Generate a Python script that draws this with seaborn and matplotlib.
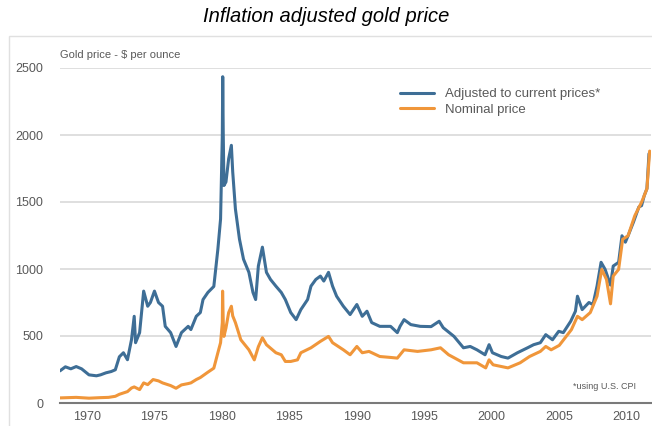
import matplotlib
matplotlib.use("Agg")
import matplotlib.pyplot as plt
from matplotlib.patches import Rectangle
from matplotlib.ticker import MultipleLocator
import seaborn as sns
import pandas as pd

# values (decimal year, $ per ounce)
adj_year = [1968.0, 1968.4, 1968.8, 1969.2, 1969.6, 1970.15, 1970.7, 1971.0, 1971.4, 1971.8,
            1972.1, 1972.4, 1972.7, 1973.0, 1973.3, 1973.5, 1973.6, 1973.9, 1974.2, 1974.5,
            1974.7, 1975.0, 1975.3, 1975.6, 1975.8, 1976.2, 1976.6, 1977.0, 1977.5, 1977.7,
            1978.1, 1978.4, 1978.6, 1978.96, 1979.4, 1979.7, 1979.9, 1980.03, 1980.06, 1980.1,
            1980.15, 1980.3, 1980.5, 1980.7, 1980.8, 1981.0, 1981.3, 1981.6, 1982.0, 1982.3,
            1982.5, 1982.7, 1983.0, 1983.3, 1983.6, 1984.0, 1984.4, 1984.7, 1985.1, 1985.5,
            1985.85, 1986.35, 1986.6, 1986.96, 1987.3, 1987.55, 1987.9, 1988.2, 1988.5, 1989.0,
            1989.5, 1990.0, 1990.4, 1990.75, 1991.1, 1991.7, 1992.5, 1993.0, 1993.2, 1993.5,
            1994.0, 1994.7, 1995.5, 1996.1, 1996.4, 1997.2, 1997.9, 1998.4, 1998.9, 1999.5,
            1999.8, 2000.05, 2000.7, 2001.2, 2001.9, 2002.65, 2003.1, 2003.6, 2004.0, 2004.5,
            2004.96, 2005.3, 2005.85, 2006.2, 2006.35, 2006.7, 2007.2, 2007.5, 2007.8, 2008.1,
            2008.4, 2008.8, 2009.0, 2009.4, 2009.65, 2009.9, 2010.1, 2010.5, 2010.9, 2011.1,
            2011.3, 2011.5, 2011.65]
adj_price = [240, 270, 255, 272, 255, 210, 203, 210, 225, 235,
             248, 345, 375, 323, 473, 647, 450, 525, 835, 722,
             750, 835, 750, 722, 572, 525, 422, 525, 572, 548,
             647, 675, 772, 825, 870, 1148, 1373, 2000, 2435, 1998,
             1623, 1650, 1823, 1923, 1725, 1448, 1223, 1073, 975, 825,
             772, 1022, 1163, 975, 922, 872, 825, 772, 675, 622,
             697, 772, 872, 922, 947, 910, 975, 872, 797, 722,
             660, 735, 647, 685, 600, 572, 572, 525, 572, 622,
             585, 572, 570, 610, 562, 497, 412, 422, 397, 360,
             435, 375, 347, 335, 375, 412, 435, 450, 510, 472,
             535, 525, 610, 685, 797, 697, 750, 735, 872, 1050,
             997, 880, 1022, 1050, 1248, 1200, 1248, 1350, 1463, 1473,
             1548, 1600, 1860]

nom_year = [1968.0, 1969.2, 1970.15, 1971.0, 1971.6, 1972.1, 1972.4, 1972.7, 1973.0, 1973.3,
            1973.5, 1973.9, 1974.2, 1974.5, 1974.9, 1975.3, 1975.6, 1976.2, 1976.6, 1977.0,
            1977.5, 1977.7, 1978.1, 1978.4, 1978.96, 1979.4, 1979.7, 1979.9, 1980.03, 1980.05,
            1980.1, 1980.15, 1980.3, 1980.5, 1980.7, 1980.8, 1981.0, 1981.4, 1982.0, 1982.4,
            1982.7, 1983.0, 1983.3, 1984.0, 1984.4, 1984.7, 1985.1, 1985.6, 1985.85, 1986.6,
            1987.3, 1987.9, 1988.2, 1989.0, 1989.5, 1990.0, 1990.4, 1990.9, 1991.7, 1992.5,
            1993.0, 1993.5, 1994.5, 1995.5, 1996.2, 1996.8, 1997.9, 1998.9, 1999.55, 1999.8,
            2000.1, 2001.2, 2002.1, 2002.8, 2003.6, 2004.0, 2004.4, 2005.0, 2005.9, 2006.35,
            2006.7, 2007.3, 2007.8, 2008.15, 2008.5, 2008.8, 2009.0, 2009.4, 2009.7, 2010.1,
            2010.6, 2011.1, 2011.3, 2011.5, 2011.7]
nom_price = [38, 42, 36, 40, 42, 50, 65, 75, 85, 112,
             120, 100, 150, 137, 175, 165, 150, 130, 110, 135,
             145, 150, 175, 190, 230, 260, 375, 450, 600, 835,
             600, 497, 560, 675, 722, 650, 600, 472, 397, 322,
             420, 487, 435, 375, 360, 310, 310, 322, 375, 412,
             460, 497, 450, 397, 360, 422, 375, 385, 347, 340,
             335, 397, 385, 397, 412, 360, 300, 300, 262, 322,
             285, 262, 300, 347, 385, 422, 397, 430, 547, 647,
             622, 675, 797, 997, 922, 740, 947, 997, 1222, 1248,
             1398, 1498, 1548, 1600, 1880]

y_ticks = [0, 500, 1000, 1500, 2000, 2500]
x_ticks = [1970, 1975, 1980, 1985, 1990, 1995, 2000, 2005, 2010]

blue = "#3e6e96"
orange = "#f0963a"
txt = "#595959"

sns.set_style("white")
plt.rcParams["font.family"] = ["Liberation Sans", "DejaVu Sans"]

adj = pd.DataFrame({"year": adj_year, "price": adj_price})
nom = pd.DataFrame({"year": nom_year, "price": nom_price})

fig = plt.figure(figsize=(6.52, 4.26), dpi=100)
ax = fig.add_axes([60 / 652, 23 / 426, 591 / 652, 335 / 426])

sns.lineplot(data=adj, x="year", y="price", color=blue, lw=2.2, label="Adjusted to current prices*", ax=ax)
sns.lineplot(data=nom, x="year", y="price", color=orange, lw=2.2, label="Nominal price", ax=ax)

ax.set_xlim(1968.0, 2011.8)
ax.set_ylim(0, 2500)
ax.set_yticks(y_ticks)
ax.set_xticks(x_ticks)
ax.xaxis.set_minor_locator(MultipleLocator(1))
ax.set_xlabel("")
ax.set_ylabel("")
ax.grid(axis="y", color="#d9d9d9", lw=1.2)
ax.set_axisbelow(True)
for s in ["top", "right", "left"]:
    ax.spines[s].set_visible(False)
ax.spines["bottom"].set_color("#7a7a7a")
ax.spines["bottom"].set_linewidth(1.5)
ax.tick_params(axis="y", length=0, pad=12, labelsize=9, labelcolor=txt)
ax.tick_params(axis="x", which="major", direction="inout", length=6, color="#7a7a7a",
               labelsize=9, labelcolor=txt, pad=3)
ax.tick_params(axis="x", which="minor", direction="inout", length=5, color="#7a7a7a")

leg = ax.legend(loc="upper left", bbox_to_anchor=(0.555, 0.975), frameon=False,
                fontsize=9.5, handlelength=2.6, handletextpad=0.8, labelspacing=0.25)
for t in leg.get_texts():
    t.set_color(txt)

ax.text(0.0, 1.04, "Gold price - $ per ounce", transform=ax.transAxes, fontsize=8,
        color=txt, ha="left", va="center")
ax.text(0.975, 0.05, "*using U.S. CPI", transform=ax.transAxes, fontsize=6.5,
        color=txt, ha="right", va="center")

fig.text(0.5, 1 - 17 / 426, "Inflation adjusted gold price", fontsize=14.5, style="italic",
         ha="center", va="center", color="black")

# light frame round the chart area
fig.patches.append(Rectangle((9 / 652, -0.1), 1.2, 0.1 + (426 - 36) / 426,
                             transform=fig.transFigure, fill=False,
                             edgecolor="#e0e0e0", lw=1))

fig.savefig("out.png", dpi=100)
